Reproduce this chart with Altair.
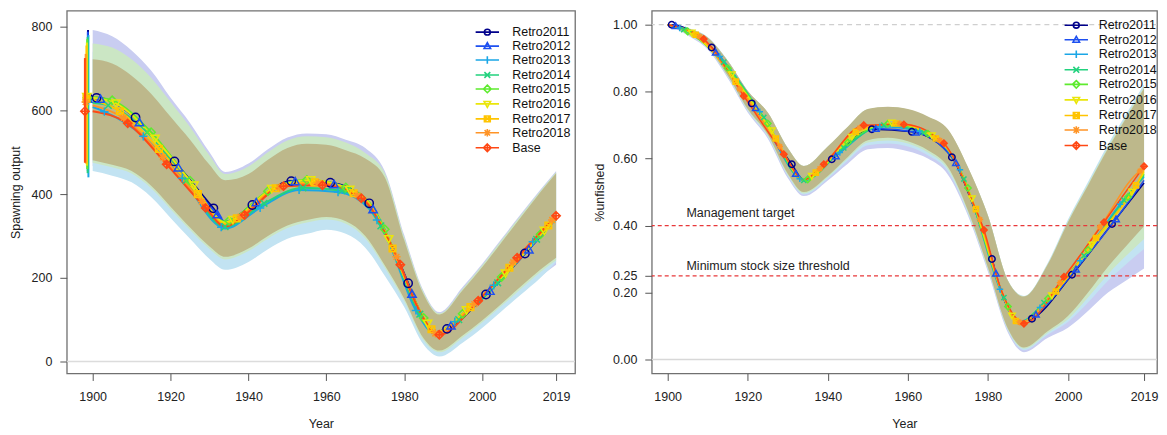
import altair as alt
import pandas as pd

FONT = "Liberation Sans"

SERIES = ["Retro2011", "Retro2012", "Retro2013", "Retro2014", "Retro2015",
          "Retro2016", "Retro2017", "Retro2018", "Base"]
COLORS = ["#00008B", "#1E50F0", "#1AA6E6", "#22D27E", "#5EEB2E",
          "#EAE60A", "#FFC400", "#FF9426", "#FF4814"]
MARKER_OFFSET = [1, 2, 3, 4, 5, 6, 7, 8, 9]
MARKER_SHAPES = [
    "circle",
    "triangle-up",
    "M-1,0L1,0M0,-1L0,1",
    "M-0.8,-0.8L0.8,0.8M-0.8,0.8L0.8,-0.8",
    "diamond",
    "triangle-down",
    "M-0.8,-0.8L0.8,-0.8L0.8,0.8L-0.8,0.8ZM-0.8,-0.8L0.8,0.8M-0.8,0.8L0.8,-0.8",
    "M-1,0L1,0M0,-1L0,1M-0.7,-0.7L0.7,0.7M-0.7,0.7L0.7,-0.7",
    "M0,-1L1,0L0,1L-1,0ZM0,-1L0,1M-1,0L1,0",
]
LEGEND_SHAPES = [
    "M-1.8,0L1.8,0M-0.45,0A0.45,0.45 0 1,0 0.45,0A0.45,0.45 0 1,0 -0.45,0",
    "M-1.8,0L1.8,0M0,-0.52L0.5,0.38L-0.5,0.38Z",
    "M-1.8,0L1.8,0M0,-0.58L0,0.58",
    "M-1.8,0L1.8,0M-0.45,-0.45L0.45,0.45M-0.45,0.45L0.45,-0.45",
    "M-1.8,0L1.8,0M0,-0.58L0.58,0L0,0.58L-0.58,0Z",
    "M-1.8,0L1.8,0M0,0.52L0.5,-0.38L-0.5,-0.38Z",
    "M-1.8,0L1.8,0M-0.45,-0.45L0.45,-0.45L0.45,0.45L-0.45,0.45ZM-0.45,-0.45L0.45,0.45M-0.45,0.45L0.45,-0.45",
    "M-1.8,0L1.8,0M0,-0.58L0,0.58M-0.42,-0.42L0.42,0.42M-0.42,0.42L0.42,-0.42",
    "M-1.8,0L1.8,0M0,-0.58L0.58,0L0,0.58L-0.58,0ZM0,-0.58L0,0.58",
]

SERIES_YEARS = {
    "Retro2011": [1900, 1901, 1911, 1921, 1931, 1934, 1941, 1951, 1961, 1971, 1976, 1981, 1983, 1988, 1991, 2001, 2011, 2019],
    "Retro2012": [1900, 1902, 1912, 1922, 1932, 1934, 1942, 1952, 1962, 1971, 1972, 1976, 1982, 1983, 1988, 1992, 2002, 2012, 2019],
    "Retro2013": [1900, 1903, 1913, 1923, 1933, 1934, 1943, 1953, 1963, 1971, 1973, 1976, 1983, 1988, 1993, 2003, 2013, 2019],
    "Retro2014": [1900, 1904, 1914, 1924, 1934, 1944, 1954, 1964, 1971, 1974, 1976, 1983, 1984, 1988, 1994, 2004, 2014, 2019],
    "Retro2015": [1900, 1905, 1915, 1925, 1934, 1935, 1945, 1955, 1965, 1971, 1975, 1976, 1983, 1985, 1988, 1995, 2005, 2015, 2019],
    "Retro2016": [1900, 1906, 1916, 1926, 1934, 1936, 1946, 1956, 1966, 1971, 1976, 1983, 1986, 1988, 1996, 2006, 2016, 2019],
    "Retro2017": [1900, 1907, 1917, 1927, 1934, 1937, 1947, 1957, 1967, 1971, 1976, 1977, 1983, 1987, 1988, 1997, 2007, 2017, 2019],
    "Retro2018": [1900, 1908, 1918, 1928, 1934, 1938, 1948, 1958, 1968, 1971, 1976, 1978, 1983, 1988, 1998, 2008, 2018, 2019],
    "Base":      [1900, 1909, 1919, 1929, 1934, 1939, 1949, 1959, 1969, 1971, 1976, 1979, 1983, 1988, 1989, 1999, 2009, 2019],
}
SPAWN_OUTPUT = {
    "Retro2011": [628, 630, 583, 478, 366, 333, 374, 431, 427, 378, 292, 187, 140, 70, 78, 160, 258, 344],
    "Retro2012": [627, 628, 572, 464, 352, 334, 381, 431, 424, 377, 364, 291, 162, 139, 70, 86, 169, 268, 342],
    "Retro2013": [608, 597, 538, 438, 321, 318, 367, 410, 405, 365, 338, 285, 122, 66, 95, 182, 286, 340],
    "Retro2014": [618, 612, 548, 432, 322, 378, 415, 408, 368, 324, 288, 130, 113, 66, 100, 188, 292, 341],
    "Retro2015": [632, 624, 548, 432, 334, 336, 407, 434, 416, 380, 316, 294, 141, 104, 69, 114, 202, 304, 343],
    "Retro2016": [630, 616, 532, 420, 332, 338, 412, 433, 410, 378, 292, 140, 90, 70, 122, 210, 312, 342],
    "Retro2017": [626, 598, 508, 400, 328, 342, 414, 428, 402, 376, 291, 270, 139, 77, 69, 130, 224, 325, 344],
    "Retro2018": [612, 582, 488, 382, 325, 346, 416, 426, 397, 374, 290, 250, 138, 67, 137, 237, 338, 346],
    "Base":      [598, 569, 471, 367, 322, 350, 419, 421, 390, 372, 290, 231, 138, 67, 64, 145, 248, 348],
}
PCT_UNFISHED = {
    "Retro2011": [1.000, 1.000, 0.932, 0.765, 0.583, 0.537, 0.598, 0.688, 0.680, 0.604, 0.470, 0.300, 0.215, 0.113, 0.122, 0.253, 0.405, 0.527],
    "Retro2012": [1.000, 0.997, 0.918, 0.752, 0.556, 0.536, 0.608, 0.690, 0.679, 0.604, 0.588, 0.472, 0.258, 0.216, 0.113, 0.135, 0.270, 0.420, 0.535],
    "Retro2013": [1.000, 0.990, 0.905, 0.740, 0.540, 0.534, 0.618, 0.695, 0.682, 0.608, 0.567, 0.474, 0.210, 0.112, 0.155, 0.295, 0.464, 0.545],
    "Retro2014": [1.000, 0.985, 0.888, 0.723, 0.535, 0.632, 0.700, 0.678, 0.609, 0.539, 0.475, 0.214, 0.185, 0.112, 0.170, 0.310, 0.476, 0.550],
    "Retro2015": [1.000, 0.980, 0.870, 0.705, 0.536, 0.538, 0.648, 0.704, 0.674, 0.610, 0.512, 0.478, 0.215, 0.158, 0.110, 0.182, 0.327, 0.485, 0.555],
    "Retro2016": [1.000, 0.975, 0.850, 0.683, 0.537, 0.547, 0.664, 0.706, 0.668, 0.611, 0.480, 0.216, 0.130, 0.110, 0.190, 0.342, 0.500, 0.560],
    "Retro2017": [1.000, 0.970, 0.830, 0.660, 0.537, 0.558, 0.680, 0.705, 0.660, 0.612, 0.477, 0.449, 0.217, 0.115, 0.110, 0.203, 0.363, 0.520, 0.565],
    "Retro2018": [1.000, 0.964, 0.808, 0.636, 0.537, 0.570, 0.692, 0.704, 0.654, 0.612, 0.476, 0.418, 0.218, 0.111, 0.229, 0.396, 0.563, 0.570],
    "Base":      [1.000, 0.957, 0.787, 0.613, 0.537, 0.583, 0.700, 0.702, 0.646, 0.612, 0.475, 0.387, 0.218, 0.113, 0.107, 0.247, 0.410, 0.577],
}

# virgin spawning output with interval (left panel, plotted just before 1900)
VIRGIN_YEAR = [1898.8, 1898.75, 1898.9, 1898.7, 1898.6, 1898.5, 1898.4, 1898.2, 1898.0]
VIRGIN_SO = [630, 628, 624, 626, 630, 632, 628, 620, 598]
VIRGIN_LO = [462, 455, 440, 450, 460, 468, 472, 474, 475]
VIRGIN_HI = [792, 788, 780, 775, 770, 762, 755, 735, 725]

# confidence bands
BAND_YEARS = [1900, 1905, 1910, 1915, 1920, 1925, 1930, 1934, 1940, 1945, 1950, 1955, 1960,
              1965, 1970, 1975, 1980, 1985, 1989, 1995, 2000, 2005, 2010, 2015, 2019]
BAND_SERIES = ["Retro2011", "Retro2013", "Retro2015", "Base"]
BAND_COLORS = ["#c9cdf1", "#c2e3f2", "#cbe6c4", "#bdb88b"]
LEFT_BAND_LO = {
    "Retro2011": [467, 455, 440, 405, 355, 305, 257, 231, 250, 280, 305, 318, 327, 317, 284, 215, 138, 45, 14, 48, 83, 123, 164, 203, 231],
    "Retro2013": [455, 444, 428, 393, 343, 293, 245, 219, 238, 268, 293, 305, 315, 305, 272, 205, 130, 40, 12, 45, 80, 120, 160, 200, 238],
    "Retro2015": [475, 464, 449, 414, 364, 314, 269, 244, 264, 294, 319, 332, 339, 329, 294, 224, 144, 50, 22, 57, 93, 133, 174, 214, 242],
    "Base":      [481, 470, 455, 420, 370, 320, 275, 250, 270, 300, 325, 338, 345, 335, 300, 230, 150, 55, 26, 62, 98, 138, 180, 220, 248],
}
LEFT_BAND_HI = {
    "Retro2011": [792, 777, 743, 695, 630, 570, 500, 453, 473, 507, 535, 545, 543, 530, 510, 455, 302, 168, 118, 178, 233, 293, 353, 411, 455],
    "Retro2013": [740, 730, 700, 656, 600, 545, 482, 442, 460, 494, 522, 532, 530, 517, 495, 448, 295, 163, 114, 172, 228, 288, 348, 407, 451],
    "Retro2015": [760, 750, 722, 678, 620, 560, 492, 448, 466, 500, 528, 538, 536, 523, 498, 450, 297, 165, 115, 174, 230, 290, 350, 408, 452],
    "Base":      [722, 712, 683, 640, 585, 530, 470, 433, 448, 482, 510, 520, 518, 505, 485, 440, 290, 160, 112, 170, 225, 285, 345, 405, 450],
}
RIGHT_BAND_LO = {
    "Retro2011": [1.0, 0.968, 0.926, 0.840, 0.738, 0.660, 0.542, 0.488, 0.535, 0.585, 0.628, 0.632, 0.622, 0.600, 0.552, 0.430, 0.262, 0.080, 0.022, 0.065, 0.095, 0.145, 0.200, 0.240, 0.272],
    "Retro2013": [1.0, 0.970, 0.929, 0.844, 0.742, 0.665, 0.548, 0.493, 0.540, 0.594, 0.640, 0.645, 0.636, 0.610, 0.562, 0.436, 0.268, 0.086, 0.028, 0.075, 0.112, 0.170, 0.235, 0.290, 0.330],
    "Retro2015": [1.0, 0.971, 0.930, 0.846, 0.745, 0.668, 0.551, 0.496, 0.544, 0.600, 0.648, 0.654, 0.645, 0.618, 0.568, 0.440, 0.271, 0.089, 0.032, 0.080, 0.120, 0.185, 0.255, 0.315, 0.360],
    "Base":      [1.0, 0.972, 0.932, 0.848, 0.748, 0.672, 0.555, 0.500, 0.548, 0.605, 0.655, 0.662, 0.652, 0.625, 0.575, 0.445, 0.275, 0.092, 0.036, 0.085, 0.130, 0.200, 0.277, 0.345, 0.398],
}
RIGHT_BAND_HI = {
    "Retro2011": [1.0, 0.990, 0.962, 0.892, 0.800, 0.735, 0.628, 0.575, 0.632, 0.690, 0.740, 0.745, 0.738, 0.715, 0.678, 0.568, 0.425, 0.232, 0.185, 0.275, 0.390, 0.495, 0.600, 0.700, 0.785],
    "Retro2013": [1.0, 0.989, 0.963, 0.893, 0.802, 0.737, 0.632, 0.578, 0.636, 0.694, 0.747, 0.752, 0.745, 0.722, 0.684, 0.572, 0.430, 0.236, 0.190, 0.290, 0.418, 0.530, 0.642, 0.742, 0.822],
    "Retro2015": [1.0, 0.988, 0.962, 0.892, 0.802, 0.738, 0.632, 0.578, 0.636, 0.695, 0.748, 0.754, 0.747, 0.724, 0.686, 0.574, 0.430, 0.236, 0.189, 0.287, 0.413, 0.524, 0.635, 0.735, 0.814],
    "Base":      [1.0, 0.988, 0.962, 0.892, 0.802, 0.738, 0.632, 0.578, 0.636, 0.695, 0.748, 0.755, 0.748, 0.726, 0.688, 0.575, 0.430, 0.235, 0.188, 0.285, 0.410, 0.520, 0.630, 0.730, 0.810],
}

X_TICKS = [1900, 1920, 1940, 1960, 1980, 2000, 2019]
LEFT_Y_TICKS = [0, 200, 400, 600, 800]
RIGHT_Y_TICKS = [0, 0.2, 0.25, 0.4, 0.6, 0.8, 1.0]
LEFT_X_DOMAIN = [1893.35, 2023.86]
RIGHT_X_DOMAIN = [1896.02, 2022.24]
LEFT_Y_DOMAIN = [-28.6, 838.1]
RIGHT_Y_DOMAIN = [-0.0417, 1.0417]

REF_LEVELS = [0.0, 1.0, 0.40, 0.25]
ANNOT_TEXT = ["Management target", "Minimum stock size threshold"]
ANNOT_YEAR = [1904.7, 1904.7]
ANNOT_VAL = [0.4375, 0.278]

# ---------------- tables ----------------
rows = []
for i, s in enumerate(SERIES):
    for y, so, pu in zip(SERIES_YEARS[s], SPAWN_OUTPUT[s], PCT_UNFISHED[s]):
        rows.append({"series": s, "year": y, "spawn": so, "unf": pu,
                     "marker": bool(y > 1900 and (y - 1900 - MARKER_OFFSET[i]) % 10 == 0)})
series_df = pd.DataFrame(rows)

band_rows = []
for b in BAND_SERIES:
    for k, y in enumerate(BAND_YEARS):
        band_rows.append({"band": b, "year": y,
                          "llo": LEFT_BAND_LO[b][k], "lhi": LEFT_BAND_HI[b][k],
                          "rlo": RIGHT_BAND_LO[b][k], "rhi": RIGHT_BAND_HI[b][k]})
band_df = pd.DataFrame(band_rows)

virgin_df = pd.DataFrame({"series": SERIES, "year": VIRGIN_YEAR, "so": VIRGIN_SO,
                          "lo": VIRGIN_LO, "hi": VIRGIN_HI})
ref_df = pd.DataFrame({"val": REF_LEVELS, "kind": ["zero", "one", "target", "limit"]})
annot_df = pd.DataFrame({"year": ANNOT_YEAR, "val": ANNOT_VAL, "label": ANNOT_TEXT})


def xenc(domain, with_axis):
    sc = alt.Scale(domain=domain, nice=False, zero=False)
    if with_axis:
        ax = alt.Axis(orient="bottom", values=X_TICKS, format="d", title="Year",
                      labelPadding=10, titlePadding=15)
    else:
        ax = None
    return alt.X("year:Q", scale=sc, axis=ax)


def yenc(field, domain, ticks, fmt, title, tpad):
    return alt.Y(f"{field}:Q", scale=alt.Scale(domain=domain, nice=False, zero=False),
                 axis=alt.Axis(values=ticks, format=fmt, title=title,
                               labelPadding=8, titlePadding=tpad))


def legend(lx, ly, off, rp):
    return alt.Legend(orient="none", legendX=lx, legendY=ly, title=None,
                      labelFont=FONT, labelFontSize=12.5, labelColor="#111",
                      symbolSize=170, symbolStrokeWidth=1.6, rowPadding=rp,
                      labelOffset=off, padding=0)


def build_panel(field, lo, hi, xdom, ydom, yticks, yfmt, ytitle, tpad, lw, msize, leg, right):
    Y = lambda f: yenc(f, ydom, yticks, yfmt, ytitle, tpad)
    XN = xenc(xdom, False)
    layers = []
    for k, (b, col) in enumerate(zip(BAND_SERIES, BAND_COLORS)):
        X = xenc(xdom, True) if k == 0 else XN
        layers.append(alt.Chart(band_df).transform_filter(alt.datum.band == b)
                      .mark_area(color=col, interpolate="monotone", opacity=1)
                      .encode(x=X, y=Y(lo), y2=alt.Y2(f"{hi}:Q")))
    if right:
        layers.append(alt.Chart(ref_df).transform_filter(alt.datum.kind == "zero")
                      .mark_rule(color="#d8d8d8", strokeWidth=1.5).encode(y=Y("val")))
        layers.append(alt.Chart(ref_df).transform_filter(alt.datum.kind == "one")
                      .mark_rule(color="#cfcfcf", strokeWidth=1.3, strokeDash=[5, 4]).encode(y=Y("val")))
        layers.append(alt.Chart(ref_df).transform_filter("datum.kind == 'target' || datum.kind == 'limit'")
                      .mark_rule(color="#e8383a", strokeWidth=1.2, strokeDash=[4, 3]).encode(y=Y("val")))
        layers.append(alt.Chart(annot_df).mark_text(align="left", baseline="middle", font=FONT,
                                                    fontSize=12.5, color="#222")
                      .encode(x=XN, y=Y("val"), text="label:N"))
    else:
        layers.append(alt.Chart(ref_df).transform_filter(alt.datum.kind == "zero")
                      .mark_rule(color="#dcdcdc", strokeWidth=1.5).encode(y=Y("val")))
    for i, s in enumerate(SERIES):
        layers.append(alt.Chart(series_df).transform_filter(alt.datum.series == s)
                      .mark_line(color=COLORS[i], strokeWidth=lw, interpolate="monotone")
                      .encode(x=XN, y=Y(field), order="year:Q"))
    for i, s in enumerate(SERIES):
        layers.append(alt.Chart(series_df)
                      .transform_filter(f"datum.series == '{s}' && datum.marker")
                      .mark_point(color=COLORS[i], shape=MARKER_SHAPES[i], filled=False,
                                  size=msize, strokeWidth=1.5, opacity=1)
                      .encode(x=XN, y=Y(field)))
    if not right:
        for i, s in enumerate(SERIES):
            layers.append(alt.Chart(virgin_df).transform_filter(alt.datum.series == s)
                          .mark_rule(color=COLORS[i], strokeWidth=2)
                          .encode(x=XN, y=Y("lo"), y2=alt.Y2("hi:Q")))
            layers.append(alt.Chart(virgin_df).transform_filter(alt.datum.series == s)
                          .mark_point(color=COLORS[i], shape=MARKER_SHAPES[i], filled=False,
                                      size=msize, strokeWidth=1.5, opacity=1)
                          .encode(x=XN, y=Y("so")))
    layers.append(alt.Chart(series_df).transform_filter("datum.year < 0")
                  .mark_point(filled=False, size=170, strokeWidth=1.6, opacity=1)
                  .encode(x=XN, y=Y(field),
                          color=alt.Color("series:N", scale=alt.Scale(domain=SERIES, range=COLORS), legend=leg),
                          shape=alt.Shape("series:N", scale=alt.Scale(domain=SERIES, range=LEGEND_SHAPES), legend=leg)))
    return alt.layer(*layers).resolve_axis(x="independent")


left = build_panel("spawn", "llo", "lhi", LEFT_X_DOMAIN, LEFT_Y_DOMAIN, LEFT_Y_TICKS, "d",
                   "Spawning output", 9, 2.0, 70, legend(414.5, 14, 17.5, -0.2), False).properties(
    width=510, height=364)
right = build_panel("unf", "rlo", "rhi", RIGHT_X_DOMAIN, RIGHT_Y_DOMAIN, RIGHT_Y_TICKS, ".2f",
                    "%unfished", 6, 1.5, 42, legend(418.5, 7, 15, 0.6), True).properties(width=507, height=364)

chart = (alt.hconcat(left, right, spacing=16)
         .resolve_scale(color="independent", shape="independent", x="independent", y="independent")
         .resolve_legend(color="independent", shape="independent")
         .properties(padding={"left": 0, "top": 1, "right": 0, "bottom": 0})
         .configure_view(stroke="#707070", strokeWidth=1.3)
         .configure_axis(labelFont=FONT, titleFont=FONT, labelFontSize=12.5, titleFontSize=12.5,
                         titleFontWeight="normal", labelColor="#222222", titleColor="#222222",
                         tickColor="#555555", tickSize=7, domain=False, grid=False))

chart.save("out.html", embed_options={"renderer": "svg", "actions": False})
